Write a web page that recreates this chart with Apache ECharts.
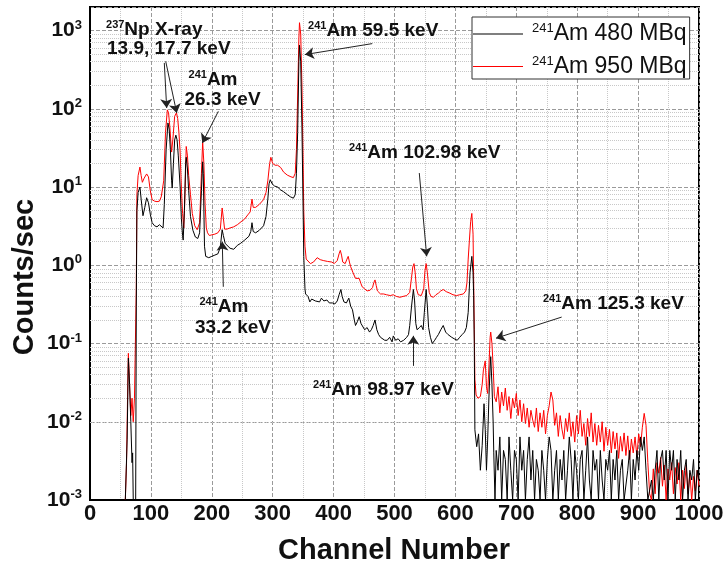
<!DOCTYPE html>
<html><head><meta charset="utf-8">
<script src="https://cdn.jsdelivr.net/npm/echarts@6/dist/echarts.min.js"></script>
<style>html,body{margin:0;padding:0;background:#fff}#c{width:726px;height:569px}</style>
</head><body><div id="c"></div>
<script>
// ---- data (channel number, counts/sec) ----
const seriesNames = ['241Am 480 MBq', '241Am 950 MBq'];

const channels480 = [
58,60,61,63,65,67,69,70,71,75,
76,77,79,82,84,87,90,93,96,99,
102,106,110,114,117,120,122,125,128,130,
132,134,135,137,139,141,143,145,148,150,
152,153,155,157,158,160,162,165,169,173,
177,180,183,185,186,188,190,195,200,205,
210,214,217,219,222,225,230,236,242,247,
254,261,264,266,268,272,278,285,289,292,
294,296,299,303,308,313,318,324,329,334,
337,339,341,343,344,346,348,350,351,353,
354,358,361,364,367,370,373,377,380,384,
389,393,398,402,406,409,412,414,417,421,
425,428,431,434,436,439,442,445,448,451,
455,459,462,465,468,471,474,477,480,484,
488,492,496,498,502,506,510,515,520,523,
525,528,531,533,535,537,541,544,547,549,
552,554,556,559,562,566,569,572,576,580,
584,588,594,598,603,607,611,615,618,621,
624,627,629,630,631,632,635,638,641,644,
647,649,651,653,655,657,658,660,662,663,
665];
const counts480 = [
0.001,0.001,0.006,0.065,0.03,0.01,0.003,0.004,0.001,0.001,
0.3,5,8.5,10,7,4.3,5.5,7.3,6.3,4.5,
3.5,3.2,3.1,3.3,3.4,3.0,6,30,66,55,
30,12,9.7,20,40,46,40,25,10,4,
2.4,2.1,5,20,24,17,9,4.2,2.8,2.3,
2.2,2.6,9,21,15,1.75,1.3,1.25,1.3,1.35,
1.4,1.7,2.85,2.4,1.9,1.8,1.65,1.6,1.8,1.9,
2.1,2.35,2.7,3.5,2.7,2.6,2.8,3.2,4.2,7,
11,12.4,11,10.3,10,9.2,8.7,8,7.5,7.2,
8,15,50,400,650,400,60,5,1.3,0.5,
0.43,0.4,0.34,0.37,0.38,0.35,0.36,0.34,0.38,0.35,
0.36,0.33,0.33,0.32,0.35,0.42,0.49,0.4,0.34,0.33,
0.38,0.3,0.27,0.2,0.17,0.19,0.22,0.18,0.17,0.15,
0.16,0.14,0.15,0.17,0.2,0.15,0.13,0.12,0.125,0.11,
0.11,0.12,0.105,0.125,0.11,0.115,0.105,0.11,0.12,0.13,
0.17,0.3,0.49,0.35,0.18,0.15,0.16,0.17,0.15,0.25,
0.49,0.3,0.16,0.12,0.1,0.11,0.12,0.13,0.15,0.17,
0.14,0.13,0.12,0.115,0.11,0.12,0.13,0.14,0.16,0.25,
0.8,1.3,0.8,0.41,0.1,0.0079,0.0048,0.007,0.0024,0.005,
0.017,0.008,0.0024,0.006,0.02,0.05,0.068,0.03,0.0097,0.004,
0.001];

const channels950 = [
58,60,62,63,65,67,69,71,73,75,
76,77,79,82,84,86,89,93,96,99,
102,106,110,114,117,119,121,124,127,129,
131,134,136,139,142,144,146,148,150,152,
154,156,158,160,162,165,168,172,176,180,
183,185,187,189,191,193,196,200,205,210,
214,217,219,221,225,230,236,242,248,254,
259,263,266,268,272,278,285,289,292,295,
297,300,304,308,313,318,324,330,334,337,
339,341,343,344,346,348,350,351,353,355,
358,362,367,373,378,383,390,397,401,406,
409,411,413,415,419,422,424,426,428,432,
436,439,442,445,447,451,455,460,464,466,
468,470,472,477,482,487,493,498,503,509,
514,520,525,528,530,532,534,536,539,544,
548,550,552,554,557,560,564,568,572,576,
580,585,591,596,602,607,613,617,619,621,
623,625,627,629,630,631,632,634,637,641,
644,646,649,651,653,655,657,658,660,662,
664];
const counts950 = [
0.001,0.003,0.03,0.075,0.03,0.012,0.02,0.01,0.02,0.02,
0.5,8,14,18,14,11.5,13,14.7,13.5,9,
6.9,6.6,6.5,6.6,7.5,7.2,12,50,97,89,
60,28,40,80,89,75,50,28,10,4.6,
3.0,8,33,25,14,8,4.6,3.2,2.85,3.5,
15,38,20,6,3,2.6,2.4,2.45,2.5,2.6,
2.9,5.4,4,2.9,2.9,3.0,3.1,3.3,3.6,3.9,
4.4,4.8,7,5.5,5.5,6,6.9,8.5,12,20,
24,20,19,19,17.8,15.5,14.2,13.5,13.2,15,
30,150,800,1260,900,200,20,5,1.75,1.2,
1.15,1.05,1.1,1.25,1.18,1.15,1.12,1.1,1.05,1.15,
1.4,1.55,1.35,1.1,1.05,1.2,1.3,1.1,0.96,0.8,
0.68,0.7,0.68,0.58,0.53,0.5,0.47,0.48,0.52,0.6,
0.65,0.55,0.47,0.43,0.43,0.42,0.41,0.42,0.4,0.39,
0.4,0.41,0.45,0.7,0.95,1.05,0.8,0.5,0.42,0.41,
0.5,0.85,1.05,0.8,0.45,0.4,0.39,0.42,0.44,0.47,
0.49,0.46,0.44,0.42,0.41,0.42,0.43,0.47,0.6,1.2,
2.1,3.6,4.6,2.5,0.65,0.15,0.035,0.022,0.02,0.021,
0.03,0.046,0.06,0.028,0.023,0.05,0.12,0.14,0.1,0.05,
0.021];

const tailChannels = [
667,670,673,676,679,682,685,688,691,694,
697,700,703,706,709,712,715,718,721,724,
727,730,733,736,739,742,745,748,751,754,
757,760,763,766,769,772,775,778,781,784,
787,790,793,796,799,802,805,808,811,814,
817,820,823,826,829,832,835,838,841,844,
847,850,853,856,859,862,865,868,871,874,
877,880,883,886,889,892,895,898,901,904,
907,910,913,916,919,922,925,928,931,934,
937,940,943,946,949,952,955,958,961,964,
967,970,973,976,979,982,985,988,991,994,
997,1000];
const tail480 = [
0.0043,0.0024,0.0064,0.001,0.0043,0.0033,0.001,0.0064,0.0024,0.001,
0.0043,0.0033,0.001,0.0064,0.0024,0.0043,0.001,0.0033,0.0064,0.0018,
0.0043,0.001,0.0033,0.0024,0.001,0.0043,0.0024,0.001,0.0033,0.0064,
0.0043,0.001,0.0024,0.0043,0.001,0.0033,0.0018,0.0043,0.001,0.0024,
0.0064,0.0033,0.001,0.0043,0.0024,0.001,0.0033,0.0043,0.001,0.0024,
0.0064,0.0018,0.001,0.0043,0.0024,0.0033,0.001,0.0043,0.0018,0.001,
0.0033,0.0024,0.0043,0.001,0.0033,0.0018,0.0043,0.001,0.0024,0.0033,
0.001,0.001,0.0024,0.0043,0.001,0.0033,0.0018,0.0043,0.0024,0.0064,
0.0043,0.0064,0.0024,0.001,0.001,0.0018,0.001,0.0024,0.0043,0.001,
0.0033,0.0043,0.0018,0.0043,0.001,0.0043,0.0024,0.0043,0.001,0.0033,
0.0018,0.0043,0.001,0.0024,0.0033,0.001,0.0024,0.0018,0.0033,0.001,
0.0024,0.0018];
const tail950 = [
0.018,0.028,0.013,0.024,0.016,0.027,0.014,0.021,0.011,0.02,
0.015,0.023,0.012,0.019,0.01,0.017,0.0095,0.015,0.0085,0.014,
0.0105,0.0085,0.015,0.0075,0.013,0.0085,0.014,0.007,0.012,0.016,
0.024,0.019,0.009,0.013,0.0065,0.012,0.008,0.006,0.011,0.0075,
0.013,0.0065,0.01,0.0055,0.012,0.007,0.014,0.0065,0.0095,0.005,
0.011,0.0065,0.013,0.0055,0.0095,0.005,0.009,0.0055,0.01,0.0042,
0.0085,0.005,0.008,0.004,0.0075,0.0045,0.0072,0.0034,0.0065,0.0042,
0.0072,0.0037,0.0066,0.0033,0.006,0.004,0.0064,0.0036,0.007,0.0048,
0.0085,0.0128,0.009,0.003,0.0012,0.001,0.0025,0.0012,0.003,0.0022,
0.0035,0.0015,0.0028,0.001,0.0025,0.0018,0.003,0.0012,0.0026,0.0016,
0.003,0.001,0.0024,0.0014,0.0028,0.0012,0.0022,0.001,0.002,0.0013,
0.0024,0.0015];

// ---- build ----
const FONT = '"Liberation Sans", Arial, Helvetica, sans-serif';
function pairs(xs, ys) { return xs.map((x, i) => [x, ys[i]]); }
const data480 = pairs(channels480.concat(tailChannels), counts480.concat(tail480));
const data950 = pairs(channels950.concat(tailChannels), counts950.concat(tail950));

const minorY = [];
for (let e = -3; e < 4; e++) for (let k = 2; k < 10; k++) {
  const v = k * Math.pow(10, e);
  if (v < 2000) minorY.push({ yAxis: v });
}

const annRich = {
  s: { fontFamily: FONT, fontWeight: 'bold', fontSize: 11, color: '#111', lineHeight: 11, verticalAlign: 'top' },
  t: { fontFamily: FONT, fontWeight: 'bold', fontSize: 19, color: '#111', lineHeight: 21 }
};
function note(text, ch, v, align) {
  return { coord: [ch, v], symbol: 'circle', symbolSize: 0,
    label: { show: true, position: 'inside', formatter: text, align: align, rich: annRich } };
}
const notes = [
  note('{s|237}{t|Np X-ray}', 26.3, 1029, 'left'),
  note('{t|13.9, 17.7 keV}', 27.9, 580, 'left'),
  note('{s|241}{t|Am}', 202, 236, 'center'),
  note('{t|26.3 keV}', 217.6, 131, 'center'),
  note('{s|241}{t|Am 59.5 keV}', 358, 1000, 'left'),
  note('{s|241}{t|Am 102.98 keV}', 425.3, 27.5, 'left'),
  note('{s|241}{t|Am}', 220, 0.294, 'center'),
  note('{t|33.2 keV}', 234.8, 0.1586, 'center'),
  note('{s|241}{t|Am 98.97 keV}', 366.2, 0.0256, 'left'),
  note('{s|241}{t|Am 125.3 keV}', 743.8, 0.3216, 'left')
];
function arrow(c1, v1, c2, v2) { return [{ coord: [c1, v1] }, { coord: [c2, v2] }]; }
const arrows = [
  arrow(122, 386, 125.9, 102.5),
  arrow(124.3, 405, 142.4, 88.5),
  arrow(210.7, 92.8, 184.4, 36.6),
  arrow(463.5, 681, 353, 493),
  arrow(540.7, 15.1, 552.9, 1.3),
  arrow(218.9, 0.531, 217.2, 2.0),
  arrow(530.9, 0.0518, 530.9, 0.1253),
  arrow(774.5, 0.2177, 666.7, 0.117)
];

const chart = echarts.init(document.getElementById('c'));
chart.setOption({
  animation: false,
  backgroundColor: '#fff',
  grid: { left: 90, right: 27, top: 7, bottom: 69, show: true, borderColor: '#000', borderWidth: 2,
          containLabel: false, outerBoundsMode: 'none' },
  xAxis: {
    type: 'value', min: 0, max: 1000, interval: 100,
    axisLine: { show: true, onZero: false, lineStyle: { color: '#000', width: 2 } },
    axisTick: { show: false },
    axisLabel: { fontFamily: FONT, fontWeight: 'bold', fontSize: 22, color: '#111', margin: 3,
                 formatter: function (v) { return String(v); } },
    splitLine: { show: true, lineStyle: { type: 'dashed', color: '#9a9a9a', width: 1 } },
    minorTick: { show: false, splitNumber: 2 },
    minorSplitLine: { show: true, lineStyle: { type: 'dotted', color: '#c8c8c8', width: 1 } }
  },
  yAxis: {
    type: 'log', logBase: 10, min: 0.001, max: 2000,
    axisLine: { show: true, lineStyle: { color: '#000', width: 2 } },
    axisTick: { show: false },
    axisLabel: {
      margin: 8,
      formatter: function (v) {
        const e = Math.log10(v), r = Math.round(e);
        if (Math.abs(e - r) > 1e-6) return '';
        return '{b|10}{s|' + r + '}';
      },
      rich: {
        b: { fontFamily: FONT, fontWeight: 'bold', fontSize: 21, color: '#111', lineHeight: 24 },
        s: { fontFamily: FONT, fontWeight: 'bold', fontSize: 13, color: '#111', lineHeight: 13, verticalAlign: 'top' }
      }
    },
    splitLine: { show: true, lineStyle: { type: 'dashed', color: '#9a9a9a', width: 1 } }
  },
  legend: {
    data: [seriesNames[0], seriesNames[1]],
    orient: 'vertical', left: 472, top: 17,
    icon: 'rect', itemWidth: 50, itemHeight: 1, itemGap: 9,
    padding: [5, 3, 1, 1],
    borderColor: '#333', borderWidth: 1, backgroundColor: '#fff',
    formatter: function (n) { return '{s|241}{t|' + n.replace('241', '') + '}'; },
    textStyle: {
      rich: {
        s: { fontFamily: FONT, fontSize: 13, color: '#111', lineHeight: 13, verticalAlign: 'top', padding: [0, 0, 0, 4] },
        t: { fontFamily: FONT, fontSize: 23, color: '#111', lineHeight: 24 }
      }
    }
  },
  series: [
    {
      name: seriesNames[1], type: 'line', data: data950, symbol: 'none', z: 2,
      lineStyle: { color: '#ff0000', width: 1 }, itemStyle: { color: '#ff0000' },
      markLine: { silent: true, symbol: 'none', z: 1, animation: false,
        label: { show: false }, emphasis: { disabled: true },
        lineStyle: { type: 'dotted', color: '#c8c8c8', width: 1 }, data: minorY }
    },
    {
      name: seriesNames[0], type: 'line', data: data480, symbol: 'none', z: 3,
      lineStyle: { color: '#000', width: 1 }, itemStyle: { color: '#000' },
      markPoint: { silent: true, animation: false, data: notes },
      markLine: { silent: true, animation: false, symbol: ['none', 'arrow'], symbolSize: 9,
        label: { show: false }, emphasis: { disabled: true },
        lineStyle: { type: 'solid', color: '#222', width: 1 }, data: arrows }
    }
  ],
  graphic: [
    { type: 'text', x: 394, y: 551, silent: true,
      style: { text: 'Channel Number', font: 'bold 29px ' + FONT, fill: '#111', align: 'center', verticalAlign: 'middle' } },
    { type: 'text', x: 25, y: 277, rotation: Math.PI / 2, silent: true,
      style: { text: 'Counts/sec', font: 'bold 29px ' + FONT, fill: '#111', align: 'center', verticalAlign: 'middle' } }
  ]
});
</script>
</body></html>
